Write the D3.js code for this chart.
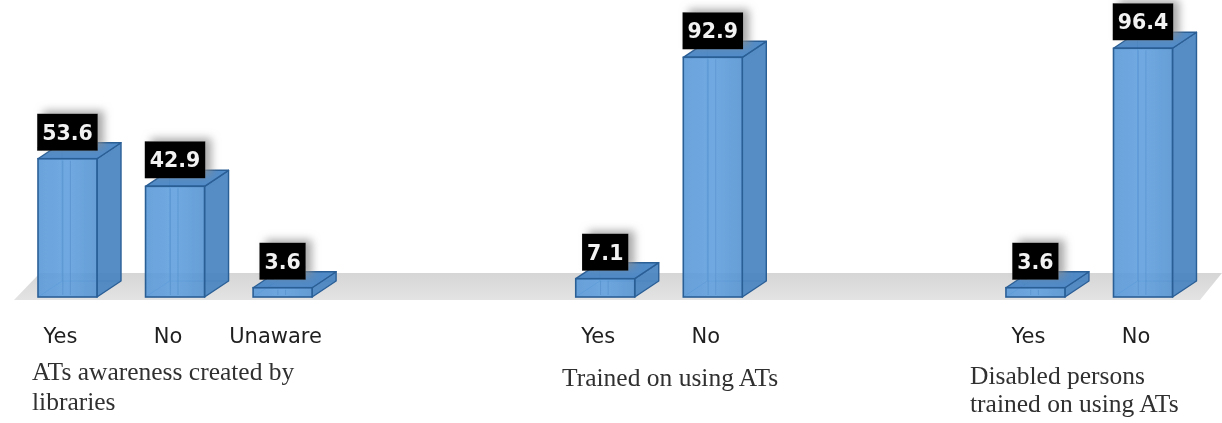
<!DOCTYPE html>
<html>
<head>
<meta charset="utf-8">
<script src="https://cdn.jsdelivr.net/npm/d3@7/dist/d3.min.js"></script>
<style>
  html, body { margin: 0; padding: 0; background: #ffffff; }
  svg { display: block; }
</style>
</head>
<body>
<svg id="chart" width="1222" height="423"></svg>
<script>
// Survey results, in percent
const groupTitles = [
  ["ATs awareness created by", "libraries"],
  ["Trained on using ATs"],
  ["Disabled persons", "trained on using ATs"]
];
const categories = ["Yes", "No", "Unaware", "Yes", "No", "Yes", "No"];
const values     = [53.6, 42.9, 3.6, 7.1, 92.9, 3.6, 96.4];
const groupOf    = [0, 0, 0, 1, 1, 2, 2];

const W = 1222, H = 423;
const svg = d3.select("#chart");

// Slot keys: each bar gets a slot, with two empty slots between groups
const slotKeys = [];
values.forEach((v, i) => {
  if (i > 0 && groupOf[i] !== groupOf[i - 1]) {
    slotKeys.push("gap" + i + "a", "gap" + i + "b");
  }
  slotKeys.push("bar" + i);
});

const x = d3.scalePoint().domain(slotKeys).range([67.5, 1143]);
const y = d3.scaleLinear().domain([0, 100]).range([297, 39]);

const barW = 59;
const depthX = 24, depthY = -16;

const defs = svg.append("defs");
const floorGrad = defs.append("linearGradient")
  .attr("id", "floorGrad").attr("x1", 0).attr("y1", 0).attr("x2", 0).attr("y2", 1);
floorGrad.append("stop").attr("offset", "0%").attr("stop-color", "#d6d6d6");
floorGrad.append("stop").attr("offset", "100%").attr("stop-color", "#e3e3e3");

const frontGrad = defs.append("linearGradient")
  .attr("id", "frontGrad").attr("x1", 0).attr("y1", 0).attr("x2", 1).attr("y2", 0);
frontGrad.append("stop").attr("offset", "0%").attr("stop-color", "#5a99d8");
frontGrad.append("stop").attr("offset", "50%").attr("stop-color", "#61a0de");
frontGrad.append("stop").attr("offset", "100%").attr("stop-color", "#5593d1");

const shadow = defs.append("filter").attr("id", "labelShadow")
  .attr("x", "-40%").attr("y", "-40%").attr("width", "180%").attr("height", "180%");
shadow.append("feDropShadow")
  .attr("dx", 6).attr("dy", -3).attr("stdDeviation", 4)
  .attr("flood-color", "#8a8a8a").attr("flood-opacity", 0.75);

const soft = defs.append("filter").attr("id", "soft");
soft.append("feGaussianBlur").attr("stdDeviation", 0.35);

// Floor plane
const floorFront = 300, floorBack = 273;
svg.append("polygon")
  .attr("points", [[14, floorFront], [40, floorBack], [W, floorBack], [1200, floorFront]].join(" "))
  .attr("fill", "url(#floorGrad)");

// 3D bars
const bars = svg.append("g").attr("filter", "url(#soft)");
values.forEach((v, i) => {
  const cx = x("bar" + i);
  const x0 = cx - barW / 2, x1 = cx + barW / 2;
  const top = y(v), base = y(0);
  const g = bars.append("g");

  // edges behind the translucent faces
  g.append("path")
    .attr("d", `M${x0 + depthX},${top + depthY} V${base + depthY} H${x1 + depthX} M${x0 + depthX},${base + depthY} L${x0},${base}`)
    .attr("fill", "none").attr("stroke", "#3f78b5").attr("stroke-width", 1).attr("opacity", 0.6);

  // side face
  g.append("polygon")
    .attr("points", [[x1, top], [x1 + depthX, top + depthY], [x1 + depthX, base + depthY], [x1, base]].join(" "))
    .attr("fill", "#4783c0").attr("fill-opacity", 0.92)
    .attr("stroke", "#2b5f96").attr("stroke-width", 1.4).attr("stroke-linejoin", "round");

  // top face
  g.append("polygon")
    .attr("points", [[x0, top], [x0 + depthX, top + depthY], [x1 + depthX, top + depthY], [x1, top]].join(" "))
    .attr("fill", "#4a87c5").attr("fill-opacity", 0.95)
    .attr("stroke", "#2b5f96").attr("stroke-width", 1.4).attr("stroke-linejoin", "round");

  // front face
  g.append("rect")
    .attr("x", x0).attr("y", top).attr("width", barW).attr("height", base - top)
    .attr("fill", "url(#frontGrad)").attr("fill-opacity", 0.9)
    .attr("stroke", "#2b5f96").attr("stroke-width", 1.6);

  // faint inner lines on the front face
  [0.42, 0.55].forEach(f => {
    g.append("line")
      .attr("x1", x0 + barW * f).attr("x2", x0 + barW * f)
      .attr("y1", top + 2).attr("y2", base - 2)
      .attr("stroke", "#4f8bc8").attr("stroke-width", 1).attr("opacity", 0.55);
  });
});

// Value labels: black boxes with white bold text
const labels = svg.append("g");
values.forEach((v, i) => {
  const cx = x("bar" + i);
  const bottom = y(v) - 8;
  const boxH = 37;
  const g = labels.append("g");
  const rect = g.append("rect").attr("fill", "#000").attr("filter", "url(#labelShadow)");
  const t = g.append("text")
    .attr("x", cx).attr("y", bottom - 11)
    .attr("text-anchor", "middle")
    .attr("font-family", "DejaVu Sans")
    .attr("font-weight", "bold")
    .attr("font-size", 20.5)
    .attr("fill", "#f2f2f2")
    .text(v.toFixed(1));
  const tw = t.node().getComputedTextLength();
  const bw = tw + 10;
  rect.attr("x", cx - bw / 2).attr("y", bottom - boxH).attr("width", bw).attr("height", boxH);
});

// Category labels under the bars
svg.append("g").selectAll("text")
  .data(categories)
  .join("text")
  .attr("x", (d, i) => x("bar" + i) - 7)
  .attr("y", 343)
  .attr("text-anchor", "middle")
  .attr("font-family", "DejaVu Sans")
  .attr("font-size", 21)
  .attr("fill", "#1f1f1f")
  .text(d => d);

// Group titles
const titleLeft = [32, 562, 970];
const titleBase = [380, 386, 384];
const titleLead = [30, 30, 28];
groupTitles.forEach((lines, gi) => {
  const t = svg.append("text")
    .attr("font-family", "Liberation Serif")
    .attr("font-size", 25.5)
    .attr("fill", "#303030");
  lines.forEach((line, li) => {
    t.append("tspan")
      .attr("x", titleLeft[gi])
      .attr("y", titleBase[gi] + li * titleLead[gi])
      .text(line);
  });
});
</script>
</body>
</html>
